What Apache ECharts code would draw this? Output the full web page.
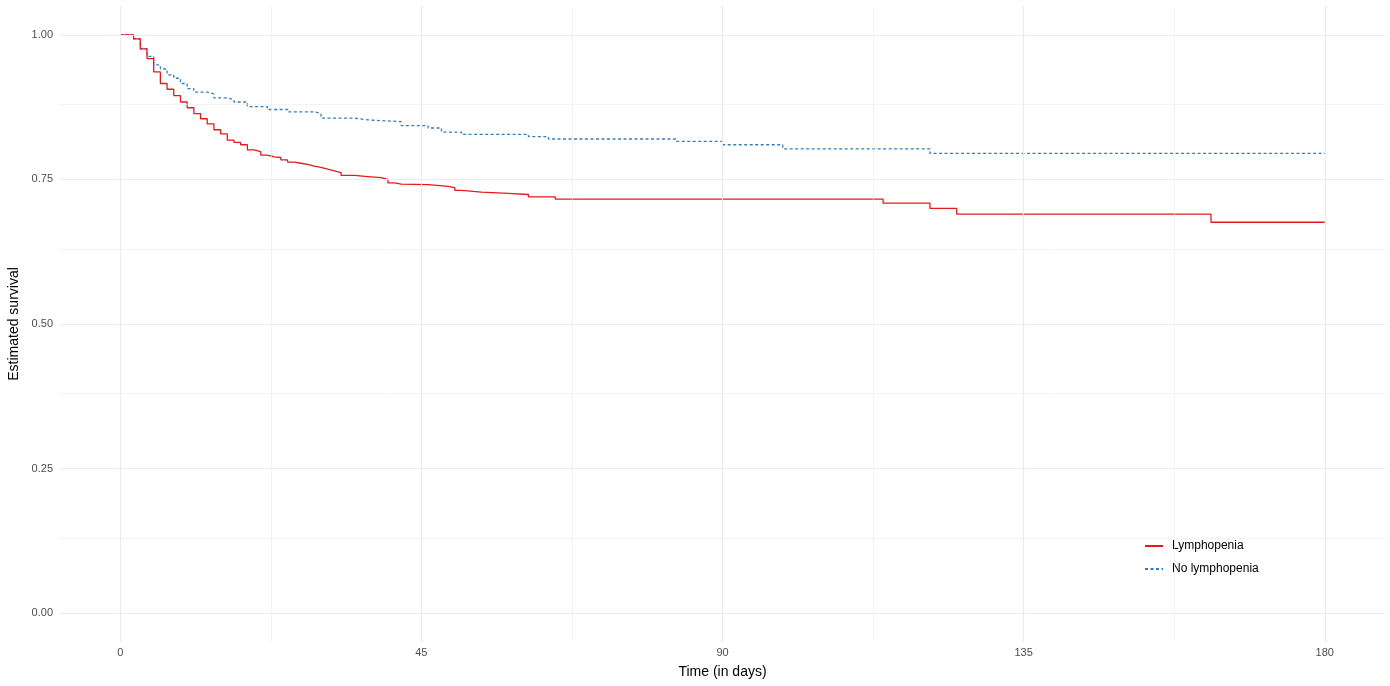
<!DOCTYPE html>
<html>
<head>
<meta charset="utf-8">
<script src="https://cdn.jsdelivr.net/npm/echarts@6/dist/echarts.min.js"></script>
<style>
  html, body { margin: 0; padding: 0; background: #fff; }
  #chart { width: 1390px; height: 686px; }
</style>
</head>
<body>
<div id="chart"></div>
<script>
// Kaplan-Meier steps
const lymphoDays = [0, 2, 3, 4, 5, 6, 7, 8, 9, 10,
  11, 12, 13, 14, 15, 16, 17, 18, 19, 20, 21, 22, 23, 24, 25, 26, 27, 28, 29, 30, 31, 32, 33,
  35, 37, 39, 40, 41, 42, 46, 49, 50, 51, 54, 58, 61, 65, 114, 121, 125, 163, 180];
const lymphoSurv = [1.000, 0.993, 0.976, 0.959, 0.936, 0.916, 0.906, 0.895, 0.884, 0.874,
  0.864, 0.855, 0.846, 0.836, 0.829, 0.818, 0.814, 0.810, 0.801, 0.798, 0.792, 0.789, 0.788, 0.784, 0.780, 0.778, 0.776, 0.773, 0.771, 0.768, 0.765, 0.762, 0.757,
  0.755, 0.753, 0.750, 0.744, 0.742, 0.741, 0.738, 0.736, 0.731, 0.728, 0.726, 0.724, 0.720, 0.716, 0.709, 0.700, 0.690, 0.676, 0.676];

const noLymphoDays = [0, 2, 3, 4, 5, 6, 7, 8, 9, 10, 11, 13, 14, 16, 17, 19, 22, 25, 29, 30,
  35, 37, 42, 46, 48, 51, 61, 64, 83, 90, 99, 121, 180];
const noLymphoSurv = [1.000, 0.993, 0.976, 0.963, 0.948, 0.941, 0.931, 0.925, 0.916, 0.907, 0.901, 0.898, 0.891, 0.888, 0.884, 0.876, 0.871, 0.867, 0.864, 0.856,
  0.853, 0.850, 0.843, 0.839, 0.832, 0.828, 0.824, 0.820, 0.816, 0.810, 0.803, 0.795, 0.795];

const xTicks = [0, 45, 90, 135, 180];
const xMinor = [22.5, 67.5, 112.5, 157.5];
const yTicks = [0, 0.25, 0.5, 0.75, 1];
const yMinor = [0.125, 0.375, 0.625, 0.875];

const FONT = "'Liberation Sans', Arial, sans-serif";
const RED  = "#E41A1C";
const BLUE = "#377EB8";

const zip = (xs, ys) => xs.map((x, i) => [x, ys[i]]);

const chart = echarts.init(document.getElementById("chart"), null, { renderer: "canvas" });

const gridLine = (w) => ({ color: "#EBEBEB", width: w, type: "solid" });

chart.setOption({
  animation: false,
  backgroundColor: "#fff",
  textStyle: { fontFamily: FONT },
  grid: { left: 60, right: 5, top: 6, bottom: 44, outerBoundsMode: "none", containLabel: false },
  xAxis: {
    type: "value",
    min: -9,
    max: 189,
    axisLine: { show: false },
    axisTick: { show: false },
    splitLine: { show: false },
    axisLabel: {
      customValues: xTicks,
      color: "#4D4D4D",
      fontSize: 11,
      fontFamily: FONT,
      margin: 5,
    },
    name: "Time (in days)",
    nameLocation: "middle",
    nameGap: 23,
    nameTextStyle: { color: "#000", fontSize: 14, fontFamily: FONT },
  },
  yAxis: {
    type: "value",
    min: -0.05,
    max: 1.05,
    axisLine: { show: false },
    axisTick: { show: false },
    splitLine: { show: false },
    axisLabel: {
      customValues: yTicks,
      formatter: (v) => v.toFixed(2),
      color: "#4D4D4D",
      fontSize: 11,
      fontFamily: FONT,
      margin: 7,
    },
    name: "Estimated survival",
    nameLocation: "middle",
    nameGap: 35,
    nameTextStyle: { color: "#000", fontSize: 14, fontFamily: FONT },
  },
  legend: {
    orient: "vertical",
    left: 1144,
    top: 540,
    padding: 0,
    itemWidth: 18,
    itemHeight: 14,
    itemGap: 11,
    itemStyle: { opacity: 0, borderWidth: 0 },
    data: ["Lymphopenia", "No lymphopenia"],
    textStyle: { color: "#000", fontSize: 12, fontFamily: FONT, padding: [0, 0, 0, 4] },
  },
  series: [
    {
      name: "grid",
      type: "line",
      data: [],
      silent: true,
      z: 1,
      markLine: {
        silent: true,
        symbol: ["none", "none"],
        label: { show: false },
        animation: false,
        data: [
          ...xMinor.map((v) => ({ xAxis: v, lineStyle: gridLine(0.6) })),
          ...yMinor.map((v) => ({ yAxis: v, lineStyle: gridLine(0.6) })),
          ...xTicks.map((v) => ({ xAxis: v, lineStyle: gridLine(1.1) })),
          ...yTicks.map((v) => ({ yAxis: v, lineStyle: gridLine(1.1) })),
        ],
      },
    },
    {
      name: "Lymphopenia",
      type: "line",
      step: "end",
      z: 3,
      symbol: "none",
      data: zip(lymphoDays, lymphoSurv),
      lineStyle: { color: RED, width: 1.3 },
      itemStyle: { color: RED },
    },
    {
      name: "No lymphopenia",
      type: "line",
      step: "end",
      z: 2,
      symbol: "none",
      data: zip(noLymphoDays, noLymphoSurv),
      lineStyle: { color: BLUE, width: 1.3, type: [3, 2.5] },
      itemStyle: { color: BLUE },
    },
  ],
});
</script>
</body>
</html>
